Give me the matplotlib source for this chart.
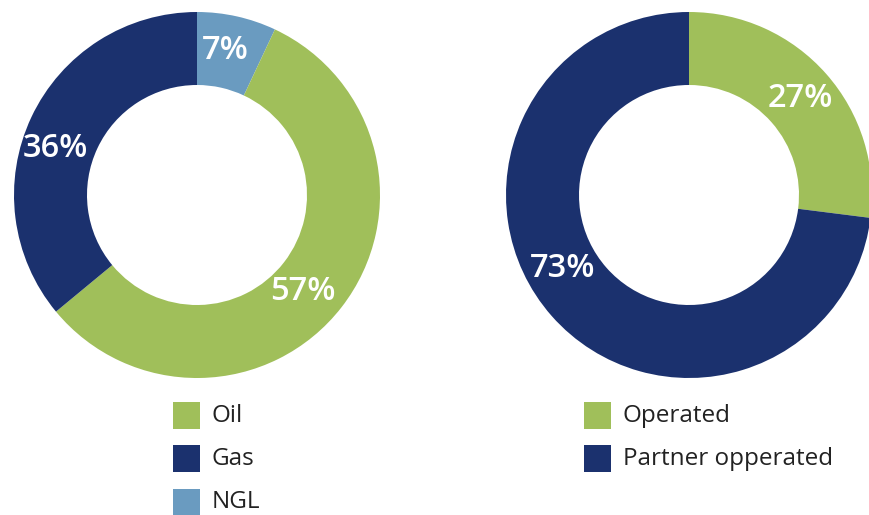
import matplotlib
matplotlib.use("Agg")
import matplotlib.pyplot as plt
from matplotlib.patches import Rectangle

# Data
left_labels = ["NGL", "Oil", "Gas"]
left_values = [7, 57, 36]
left_colors = ["#6A9BC0", "#A0BF5A", "#1B316E"]
left_pct_pos = [(225, 50), (303, 292), (55, 148)]
left_legend = ["Oil", "Gas", "NGL"]
left_legend_colors = ["#A0BF5A", "#1B316E", "#6A9BC0"]

right_labels = ["Operated", "Partner opperated"]
right_values = [27, 73]
right_colors = ["#A0BF5A", "#1B316E"]
right_pct_pos = [(800, 98), (563, 268)]

W, H = 870, 515
fig = plt.figure(figsize=(W / 100, H / 100), dpi=100)
ax = fig.add_axes([0, 0, 1, 1])
ax.set_xlim(0, W)
ax.set_ylim(0, H)
ax.set_aspect("equal")
ax.axis("off")

font = ["Open Sans", "DejaVu Sans"]
R, RING = 183, 73

def donut(center, values, colors, pct_pos):
    ax.pie(values, colors=colors, startangle=90, counterclock=False,
           center=(center[0], H - center[1]), radius=R,
           wedgeprops=dict(width=RING, linewidth=0), frame=True)
    for v, (x, y) in zip(values, pct_pos):
        ax.text(x, H - y, f"{v}%", color="white", fontsize=23.5,
                fontweight="semibold", family=font, ha="center", va="center")

donut((197, 195), left_values, left_colors, left_pct_pos)
donut((689, 195), right_values, right_colors, right_pct_pos)
ax.set_xlim(0, W)
ax.set_ylim(0, H)
ax.axis("off")

def legend(x0, y0, labels, colors):
    for i, (lab, c) in enumerate(zip(labels, colors)):
        y = y0 + i * 43.5
        ax.add_patch(Rectangle((x0, H - y - 27), 27, 27, color=c, lw=0))
        ax.text(x0 + 39, H - y - 13.5, lab, fontsize=17.5, color="#222222",
                family=font, ha="left", va="center")

legend(173, 402, left_legend, left_legend_colors)
legend(584, 402, right_labels, right_colors)

fig.savefig("out.png", dpi=100)
